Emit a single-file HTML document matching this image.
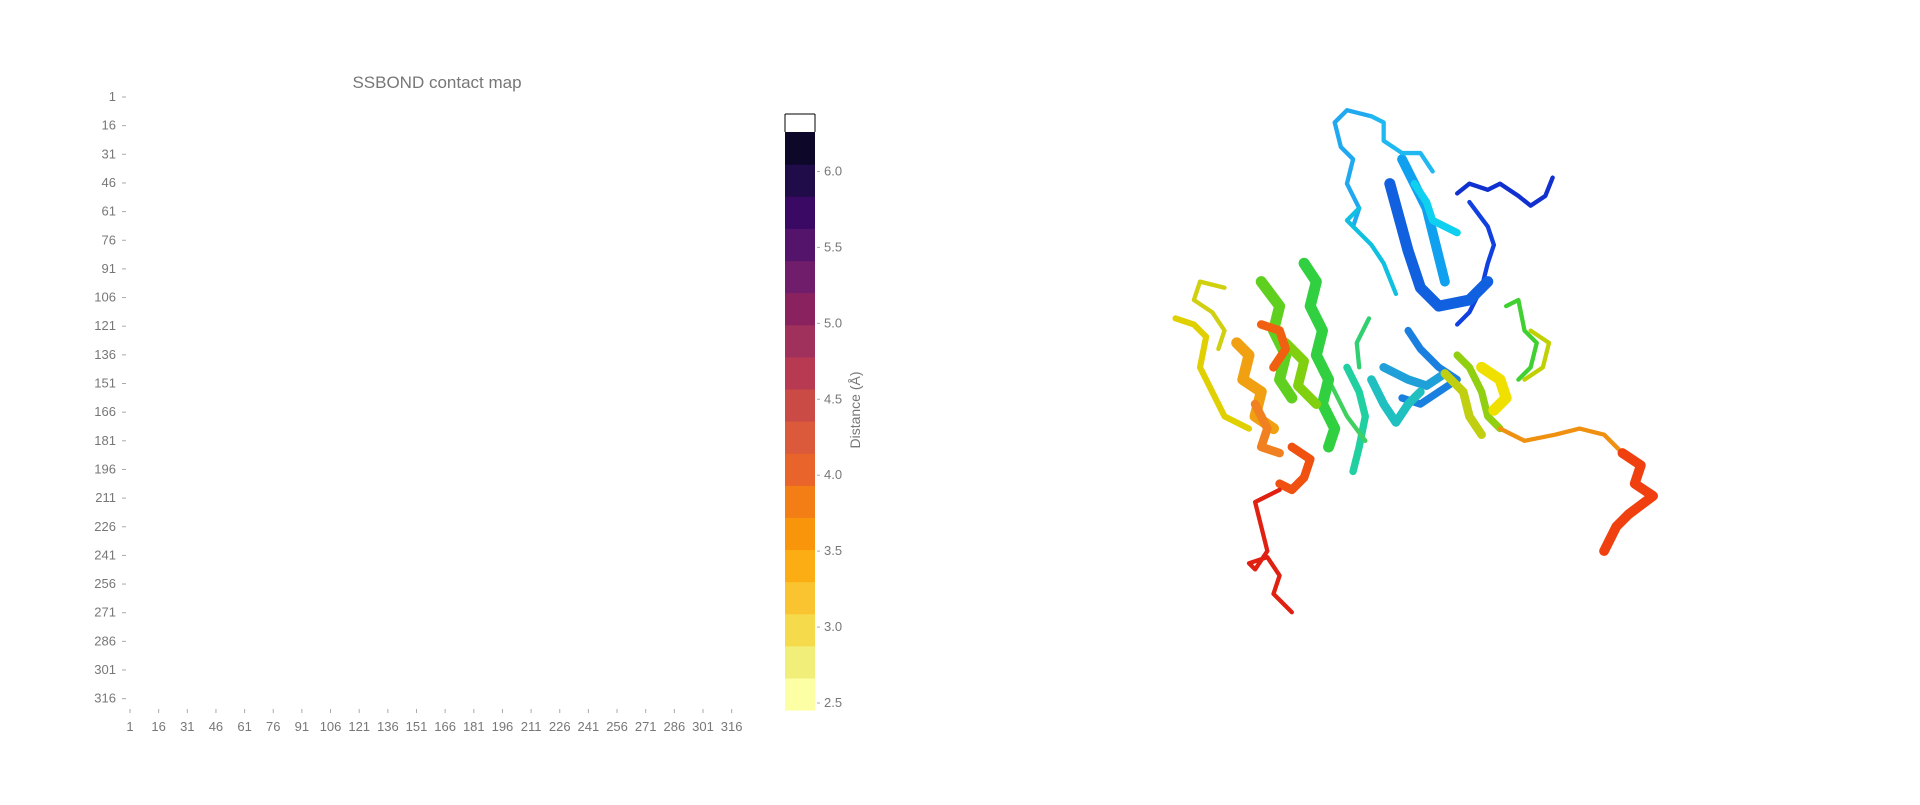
<!DOCTYPE html>
<html><head><meta charset="utf-8">
<style>
html,body{margin:0;padding:0;background:#fff;}
body{width:1920px;height:800px;position:relative;overflow:hidden;font-family:"Liberation Sans",sans-serif;}
svg text{font-family:"Liberation Sans",sans-serif;fill:#777;}
</style></head>
<body>
<svg id="chart" width="1920" height="800" xmlns="http://www.w3.org/2000/svg">
<text x="437" y="88" font-size="17" text-anchor="middle">SSBOND contact map</text>
<g id="yaxis"></g>
<g id="xaxis"></g>
<g id="cells"></g>
<g id="cbar"></g>
<text transform="translate(860,410) rotate(-90)" font-size="14" text-anchor="middle">Distance (Å)</text>
<g transform="scale(1.2245)" fill="none" stroke-linecap="round" stroke-linejoin="round">
 <path d="M1268 145 L1262 160 L1250 168 L1240 160 L1225 150 L1215 155 L1200 150 L1190 158" stroke="#1030d0" stroke-width="3.5"/>
 <path d="M1200 165 L1215 185 L1220 200 L1215 215 L1210 235 L1200 255 L1190 265" stroke="#1040e0" stroke-width="3.5"/>
 <path d="M1135 150 L1150 205 L1160 235 L1175 250 L1200 245 L1215 230" stroke="#1060e0" stroke-width="9"/>
 <path d="M1145 130 L1165 170 L1175 210 L1180 230" stroke="#10a0f0" stroke-width="8"/>
 <path d="M1120 95 L1100 90 L1090 100 L1095 120 L1105 130 L1100 150 L1110 170 L1105 185" stroke="#20a8f0" stroke-width="3.5"/>
 <path d="M1120 95 L1130 100 L1130 115 L1145 125 L1160 125 L1170 140" stroke="#20b8f0" stroke-width="3.5"/>
 <path d="M1155 150 L1165 165 L1170 180 L1190 190" stroke="#10d0f0" stroke-width="6"/>
 <path d="M1110 170 L1100 180 L1120 200 L1130 215 L1140 240" stroke="#10c0e0" stroke-width="3.5"/>
 <path d="M1150 270 L1160 285 L1175 300 L1190 310 L1175 320 L1160 330 L1145 325" stroke="#1a80e0" stroke-width="6"/>
 <path d="M1130 300 L1150 310 L1165 315 L1180 305" stroke="#20a0d8" stroke-width="7"/>
 <path d="M1120 310 L1130 330 L1140 345 L1150 330 L1160 320" stroke="#20c0c0" stroke-width="7"/>
 <path d="M1100 300 L1110 320 L1115 340 L1110 365 L1105 385" stroke="#20d0a0" stroke-width="6"/>
 <path d="M1118 260 L1108 280 L1110 300" stroke="#30d070" stroke-width="3.5"/>
 <path d="M1080 300 L1090 320 L1100 340 L1115 360" stroke="#40d060" stroke-width="3.5"/>
 <path d="M1065 215 L1075 230 L1070 250 L1080 270 L1075 290 L1085 310 L1080 330 L1090 350 L1085 365" stroke="#30d040" stroke-width="9"/>
 <path d="M1030 230 L1045 250 L1040 270 L1050 290 L1045 310 L1055 325" stroke="#60d020" stroke-width="9"/>
 <path d="M1050 280 L1065 295 L1060 315 L1075 330" stroke="#80d010" stroke-width="8"/>
 <path d="M1000 235 L980 230 L975 245 L990 255 L1000 270 L995 285" stroke="#d0d010" stroke-width="3.5"/>
 <path d="M960 260 L975 265 L985 275 L980 300 L990 320 L1000 340 L1020 350" stroke="#e0d000" stroke-width="5"/>
 <path d="M1010 280 L1020 290 L1015 310 L1030 320 L1025 340 L1040 350" stroke="#f0a010" stroke-width="9"/>
 <path d="M1030 265 L1045 270 L1050 285 L1040 300" stroke="#f06010" stroke-width="7"/>
 <path d="M1025 330 L1035 350 L1030 365 L1045 370" stroke="#f08020" stroke-width="7"/>
 <path d="M1055 365 L1070 375 L1065 390 L1055 400 L1045 395" stroke="#f05010" stroke-width="7"/>
 <path d="M1045 400 L1035 405 L1025 410 L1030 430 L1035 450 L1025 465 L1020 460 L1035 455 L1045 470 L1040 485 L1055 500" stroke="#e02010" stroke-width="3.5"/>
 <path d="M1190 290 L1200 300 L1210 320 L1215 340 L1225 350" stroke="#90d010" stroke-width="6"/>
 <path d="M1180 305 L1195 320 L1200 340 L1210 355" stroke="#c0d010" stroke-width="7"/>
 <path d="M1210 300 L1225 310 L1230 325 L1220 335" stroke="#f0e000" stroke-width="9"/>
 <path d="M1230 250 L1240 245 L1245 270 L1255 280 L1250 300 L1240 310" stroke="#40d030" stroke-width="3.5"/>
 <path d="M1250 270 L1265 280 L1260 300 L1245 310" stroke="#c0d000" stroke-width="3.5"/>
 <path d="M1225 350 L1245 360 L1270 355 L1290 350 L1310 355 L1325 370" stroke="#f09010" stroke-width="3.5"/>
 <path d="M1325 370 L1340 380 L1335 395 L1350 405 L1330 420 L1320 430 L1310 450" stroke="#f04010" stroke-width="8"/>
</g>
</svg>
<script>
const yTickLabels=["1","16","31","46","61","76","91","106","121","136","151","166","181","196","211","226","241","256","271","286","301","316"];
const xTickLabels=["1","16","31","46","61","76","91","106","121","136","151","166","181","196","211","226","241","256","271","286","301","316"];
const contactRows=[];
const contactCols=[];
const contactDist=[];
const cbarTicks=[2.5,3.0,3.5,4.0,4.5,5.0,5.5,6.0];
const cbarColors=["#fcffa4","#f2ee7a","#f5db4b","#f9c42f","#fbad13","#f8950a","#f37e16","#e8642a","#da5a3b","#ca4a46","#b83a52","#a0305c","#8a2260","#701e6c","#55146c","#3a0964","#210c4a","#0d0829"];
const NS="http://www.w3.org/2000/svg";
const plotL=130,plotT=97,unit=1.91;
const xs=v=>plotL+(v-1)*unit;
const ys=v=>plotT+(v-1)*unit;
const cMin=2.454,cMax=6.26,cT=132,cB=710,cX=785,cW=30;
const cs=v=>cB-(v-cMin)/(cMax-cMin)*(cB-cT);
function mk(tag,attrs,parent){const e=document.createElementNS(NS,tag);for(const k in attrs)e.setAttribute(k,attrs[k]);parent.appendChild(e);return e;}
const yg=document.getElementById('yaxis');
yTickLabels.forEach(l=>{const y=ys(+l);
 const t=mk('text',{x:116,y:y+4,'font-size':13,'text-anchor':'end'},yg);t.textContent=l;
 
 
 mk('line',{x1:122,x2:126,y1:y,y2:y,stroke:'#aaa'},yg);});
const xg=document.getElementById('xaxis');
xTickLabels.forEach(l=>{const x=xs(+l);
 const t=mk('text',{x:x,y:731,'font-size':13,'text-anchor':'middle'},xg);t.textContent=l;
 
 
 mk('line',{x1:x,x2:x,y1:709,y2:713,stroke:'#aaa'},xg);});
const cg=document.getElementById('cells');
contactDist.forEach((d,i)=>{const idx=Math.min(cbarColors.length-1,Math.max(0,Math.floor((d-cMin)/(cMax-cMin)*cbarColors.length)));
 const r=mk('rect',{x:xs(contactCols[i]),y:ys(contactRows[i]),width:3,height:3,fill:cbarColors[idx]},cg);
 
 });
const bg=document.getElementById('cbar');
mk('line',{x1:cX,x2:cX+cW,y1:114,y2:114,stroke:'#000','stroke-width':1},bg);
mk('line',{x1:cX,x2:cX,y1:114,y2:132,stroke:'#000'},bg);
mk('line',{x1:cX+cW,x2:cX+cW,y1:114,y2:132,stroke:'#000'},bg);
const n=cbarColors.length,bh=(cB-cT)/n;
cbarColors.forEach((c,i)=>{const r=mk('rect',{x:cX,y:cB-(i+1)*bh,width:cW,height:bh+0.6,fill:c},bg);
 
 });
cbarTicks.forEach(v=>{const y=cs(v);
 mk('line',{x1:cX+cW+2,x2:cX+cW+5,y1:y,y2:y,stroke:'#aaa'},bg);
 const t=mk('text',{x:cX+cW+9,y:y+4,'font-size':13},bg);t.textContent=v.toFixed(1);
 
 });
</script>
</body></html>
